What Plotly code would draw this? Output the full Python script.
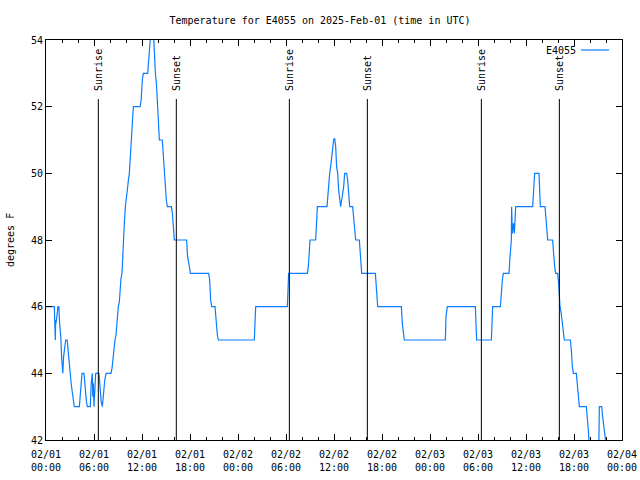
import plotly.graph_objects as go

# hours since 2025-02-01 00:00 UTC
hours = [0, 1.04, 1.1, 1.17, 1.21, 1.25, 1.5, 1.6, 1.7, 1.85, 1.95, 2.1, 2.2, 2.35, 2.46, 2.65, 2.8, 2.95,
         3.1, 3.25, 3.4, 3.54, 4.17, 4.3, 4.42, 4.5, 4.75, 4.9, 5.05, 5.17, 5.54, 5.65, 5.79, 5.85, 5.92,
         6.0, 6.1, 6.21, 6.625, 6.75, 6.9, 7.04, 7.2, 7.35, 7.5, 8.125, 8.25, 8.4, 8.5, 8.625, 8.75, 8.85,
         8.95, 9.04, 9.17, 9.25, 9.375, 9.5, 9.58, 9.67, 9.79, 9.92, 10.04, 10.17, 10.3, 10.42, 10.54,
         10.67, 10.8, 10.92, 11.75, 11.9, 12.04, 12.17, 12.71, 12.85, 13.0, 13.125, 13.42, 13.54, 13.67,
         13.8, 13.92, 14.04, 14.17, 14.54, 14.67, 14.79, 14.92, 15.04, 15.17, 15.67, 15.8, 15.92, 16.04,
         17.58, 17.7, 17.92, 18.04, 20.33, 20.46, 20.58, 20.71, 21.125, 21.25, 21.42, 21.54,
         26.04, 26.125, 26.21, 30.17, 30.25, 30.33, 32.67, 32.79, 32.875, 33.0, 33.71, 33.8, 33.92,
         35.125, 35.21, 35.33, 35.46, 35.58, 35.71, 35.83, 35.96, 36.08, 36.21, 36.33, 36.46, 36.58,
         36.71, 36.83, 36.96, 37.08, 37.21, 37.33, 37.58, 37.71, 37.83, 37.96, 38.33, 38.46, 38.58,
         38.71, 39.17, 39.29, 39.375, 39.46, 41.17, 41.29, 41.375, 41.46, 44.42, 44.54, 44.67, 44.79,
         49.92, 50.0, 50.17, 53.67, 53.75, 53.83, 55.67, 55.75, 55.83, 56.8, 56.92, 57.04, 57.17,
         57.875, 58.0, 58.17, 58.2, 58.3, 58.45, 58.55, 58.71, 60.83, 60.96, 61.08, 61.625, 61.75,
         61.79, 62.375, 62.46, 62.58, 62.71, 63.33, 63.46, 63.58, 63.71, 63.96, 64.08, 64.17, 64.25,
         64.375, 64.5, 64.625, 64.79, 65.54, 65.67, 65.79, 65.92, 66.29, 66.42, 66.54, 66.67, 67.54,
         67.67, 67.79, 67.92, 69.1, 69.17, 69.46, 69.58, 69.71, 69.96, 70.2]
temps = [46, 46, 45.5, 45, 45.6, 45.5, 46, 46, 45.5, 45.1, 44.5, 44, 44.5, 44.8, 45, 45, 44.5, 44.2,
         43.8, 43.5, 43.15, 43, 43, 43.5, 43.8, 44, 44, 43.5, 43.15, 43, 43, 43.7, 44, 43.3, 43.7,
         43, 43.5, 44, 44, 43.5, 43.15, 43, 43.5, 43.8, 44, 44, 44.15, 44.5, 44.85, 45, 45.15, 45.5,
         45.85, 46, 46.15, 46.5, 46.85, 47, 47.5, 48, 48.5, 49, 49.2, 49.5, 49.8, 50, 50.5,
         51, 51.5, 52, 52, 52.2, 52.8, 53, 53, 53.5, 53.9, 54.3, 54.3, 53.5, 53,
         52.7, 52.2, 51.5, 51, 51, 50.5, 50, 49.7, 49.2, 49, 49, 48.8, 48.3, 48,
         48, 47.5, 47.2, 47, 47, 46.8, 46.2, 46, 46, 45.5, 45.15, 45,
         45, 45.5, 46, 46, 46.5, 47, 47, 47.2, 47.5, 48, 48, 48.5, 49,
         49, 49.3, 49.5, 50, 50.2, 50.5, 50.8, 51, 51.05, 50.8, 50.2, 50, 49.5,
         49.3, 49, 49.2, 49.4, 49.6, 50, 50, 49.8, 49.5, 49, 49, 48.7, 48.3,
         48, 48, 47.5, 47.2, 47, 47, 46.7, 46.3, 46, 46, 45.5, 45.15, 45,
         45, 45.7, 46, 46, 45.5, 45, 45, 45.5, 46, 46, 46.5, 46.8, 47,
         47, 47.5, 48, 49, 48.2, 48.5, 48.2, 49, 49, 49.5, 50, 50, 49.5,
         49, 49, 48.8, 48.3, 48, 48, 47.5, 47.2, 47, 47, 46.7, 46.3, 46,
         45.85, 45.6, 45.3, 45, 45, 44.7, 44.2, 44, 44, 43.7, 43.3, 43, 43,
         42.7, 42.3, 41.8, 41.8, 43, 43, 42.7, 42.4, 41.8, 41.5]

sunrise_hours = [6.54, 30.42, 54.42]
sunset_hours = [16.29, 40.17, 64.17]

tick_hours = list(range(0, 73, 6))
tick_labels = ["02/01<br>00:00", "02/01<br>06:00", "02/01<br>12:00", "02/01<br>18:00",
               "02/02<br>00:00", "02/02<br>06:00", "02/02<br>12:00", "02/02<br>18:00",
               "02/03<br>00:00", "02/03<br>06:00", "02/03<br>12:00", "02/03<br>18:00",
               "02/04<br>00:00"]

FONT = "DejaVu Sans Mono, Liberation Mono, monospace"
LINE_COLOR = "#0a7cff"

fig = go.Figure()
fig.add_trace(go.Scatter(x=hours, y=temps, mode="lines",
                         line=dict(color=LINE_COLOR, width=1.2), name="E4055",
                         showlegend=False))

shapes = []
annotations = []
for h, label in [(h, "Sunrise") for h in sunrise_hours] + [(h, "Sunset") for h in sunset_hours]:
    shapes.append(dict(type="line", xref="x", yref="y", x0=h, x1=h, y0=42, y1=52.23,
                       line=dict(color="black", width=1)))
    annotations.append(dict(x=h, y=52.42, xref="x", yref="y", text=label, textangle=-90,
                            showarrow=False, xanchor="center", yanchor="bottom",
                            font=dict(family=FONT, size=10, color="black")))

# legend (gnuplot style: text then line sample)
shapes.append(dict(type="line", xref="paper", yref="paper", x0=0.9288, x1=0.9774,
                   y0=0.975, y1=0.975, line=dict(color=LINE_COLOR, width=1.2)))
annotations.append(dict(x=0.924, y=0.975, xref="paper", yref="paper", text="E4055",
                        showarrow=False, xanchor="right", yanchor="middle",
                        font=dict(family=FONT, size=10, color="black")))
# y-axis title
annotations.append(dict(x=0, y=0.5, xref="paper", yref="paper", text="degrees F",
                        textangle=-90, showarrow=False, xanchor="center", yanchor="middle",
                        xshift=-36, font=dict(family=FONT, size=10, color="black")))

fig.update_layout(
    width=640, height=480,
    margin=dict(l=46, r=18, t=40, b=40, autoexpand=False),
    paper_bgcolor="white", plot_bgcolor="white",
    font=dict(family=FONT, size=10, color="black"),
    title=dict(text="Temperature for E4055 on 2025-Feb-01 (time in UTC)", x=0.5,
               xref="container", xanchor="center", y=1 - 20 / 480, yanchor="middle",
               font=dict(family=FONT, size=10, color="black")),
    shapes=shapes, annotations=annotations, showlegend=False,
)
fig.update_xaxes(range=[0, 72], tickvals=tick_hours, ticktext=tick_labels, automargin=False,
                 showgrid=False, zeroline=False, showline=True, linecolor="black", linewidth=1,
                 mirror="allticks", ticks="inside", ticklen=6, tickcolor="black",
                 ticklabelstandoff=5,
                 minor=dict(ticks="inside", ticklen=3, dtick=2, tick0=0, tickcolor="black",
                            showgrid=False))
fig.update_yaxes(range=[42, 54], dtick=2, tick0=42, automargin=False,
                 showgrid=False, zeroline=False, showline=True, linecolor="black", linewidth=1,
                 mirror="allticks", ticks="inside", ticklen=6, tickcolor="black")

fig.write_html("out.html", config={"displayModeBar": False},
               post_script="document.body.style.margin='0';document.body.style.overflow='hidden';")
